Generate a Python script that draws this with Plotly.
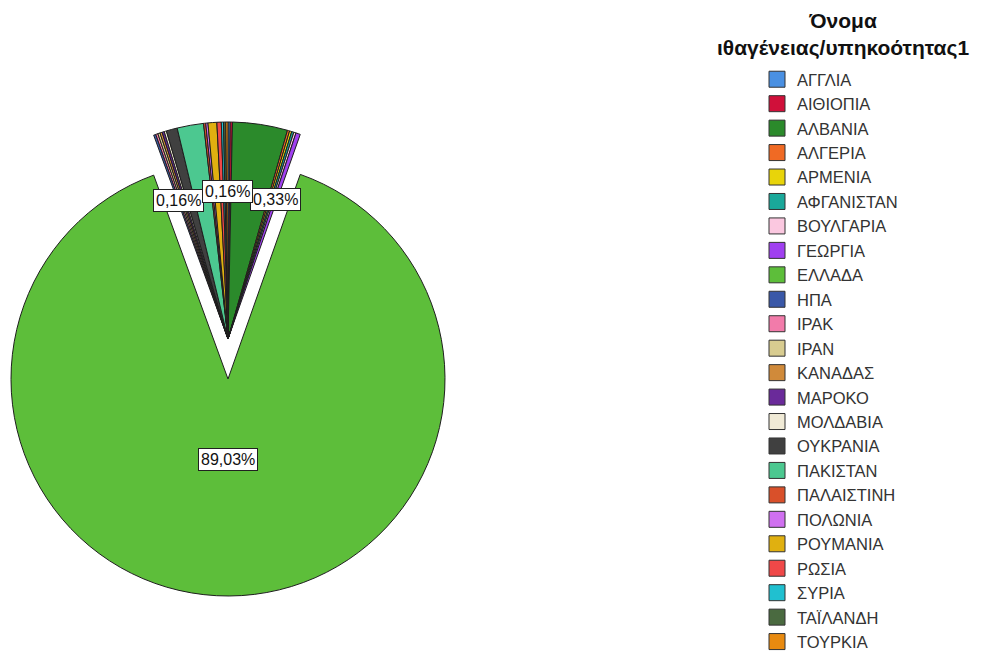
import math
import plotly.graph_objects as go

# ---- data (N = 611) ----
countries = ["ΑΓΓΛΙΑ", "ΑΙΘΙΟΠΙΑ", "ΑΛΒΑΝΙΑ", "ΑΛΓΕΡΙΑ", "ΑΡΜΕΝΙΑ", "ΑΦΓΑΝΙΣΤΑΝ",
             "ΒΟΥΛΓΑΡΙΑ", "ΓΕΩΡΓΙΑ", "ΕΛΛΑΔΑ", "ΗΠΑ", "ΙΡΑΚ", "ΙΡΑΝ", "ΚΑΝΑΔΑΣ",
             "ΜΑΡΟΚΟ", "ΜΟΛΔΑΒΙΑ", "ΟΥΚΡΑΝΙΑ", "ΠΑΚΙΣΤΑΝ", "ΠΑΛΑΙΣΤΙΝΗ", "ΠΟΛΩΝΙΑ",
             "ΡΟΥΜΑΝΙΑ", "ΡΩΣΙΑ", "ΣΥΡΙΑ", "ΤΑΪΛΑΝΔΗ", "ΤΟΥΡΚΙΑ"]
counts = [1, 1, 25, 1, 1, 1,
          1, 2, 544, 1, 1, 1, 1,
          1, 1, 5, 12, 1, 1,
          4, 2, 1, 1, 1]
colors = ["#4A90E2", "#D0103A", "#2B8A2B", "#F06A24", "#E8D40A", "#1AA89A",
          "#FBC8E0", "#A040F0", "#5DBE3A", "#3A58A8", "#F27BAA", "#D8CC90", "#D08A3A",
          "#6A2A9A", "#F0EAD6", "#404040", "#4CC890", "#D9502A", "#D070F0",
          "#E0B010", "#F04848", "#20C0D0", "#4A6A40", "#E88A10"]
labeled = ["ΗΠΑ", "ΤΟΥΡΚΙΑ", "ΓΕΩΡΓΙΑ", "ΕΛΛΑΔΑ"]
main_label = "ΕΛΛΑΔΑ"
legend_title = "Όνομα<br>ιθαγένειας/υπηκοότητας1"

# ---- layout geometry ----
W, H = 995, 659
R = 217
CX = 228
CY_MAIN = 379   # exploded main slice
CY_REST = 339   # remaining slices
FONT = "Arial, Liberation Sans, sans-serif"
EDGE = "#1e1e1e"
CLEAR = "rgba(0,0,0,0)"


def dom(cx, cy, r):
    return dict(x=[(cx - r) / W, (cx + r) / W], y=[1 - (cy + r) / H, 1 - (cy - r) / H])


is_main = [c == main_label for c in countries]
common = dict(labels=countries, values=counts, sort=False, direction="clockwise",
              rotation=0, textinfo="none", hoverinfo="label+percent+value",
              showlegend=False)

fig = go.Figure()
# main slice, pulled down
fig.add_trace(go.Pie(**common,
                     marker=dict(colors=[c if m else CLEAR for c, m in zip(colors, is_main)],
                                 line=dict(color=[EDGE if m else CLEAR for m in is_main],
                                           width=[1 if m else 0 for m in is_main])),
                     domain=dom(CX, CY_MAIN, R)))
# the other slices
fig.add_trace(go.Pie(**common,
                     marker=dict(colors=[CLEAR if m else c for c, m in zip(colors, is_main)],
                                 line=dict(color=[CLEAR if m else EDGE for m in is_main],
                                           width=[0 if m else 1 for m in is_main])),
                     domain=dom(CX, CY_REST, R)))

# legend entries (square swatches)
for name, col in zip(countries, colors):
    fig.add_trace(go.Scatter(x=[None], y=[None], mode="markers", name=name,
                             marker=dict(symbol="square", size=16, color=col,
                                         line=dict(color="#333333", width=1)),
                             hoverinfo="skip", showlegend=True))

# percentage labels in boxes
total = sum(counts)
annotations = []
cum = 0
for name, v in zip(countries, counts):
    a0 = cum / total * 360
    cum += v
    a1 = cum / total * 360
    if name in labeled:
        mid = math.radians((a0 + a1) / 2)
        if name == main_label:
            cy, rr = CY_MAIN, 0.37 * R
        else:
            cy, rr = CY_REST, 0.68 * R
        px = CX + rr * math.sin(mid)
        py = cy - rr * math.cos(mid)
        txt = f"{v / total * 100:.2f}".replace(".", ",") + "%"
        annotations.append(dict(x=px / W, y=1 - py / H, xref="paper", yref="paper",
                                xanchor="center", yanchor="middle",
                                text=txt, showarrow=False, bgcolor="white",
                                bordercolor="#202020", borderwidth=1, borderpad=2,
                                font=dict(family=FONT, size=16, color="#111111")))

annotations.append(dict(x=843 / W, y=1 - 7 / H, xref="paper", yref="paper",
                        xanchor="center", yanchor="top", text="<b>" + legend_title + "</b>",
                        showarrow=False, align="center",
                        font=dict(family=FONT, size=21, color="#111111")))

fig.update_layout(
    width=W, height=H,
    margin=dict(l=0, r=0, t=0, b=0),
    paper_bgcolor="white", plot_bgcolor="white",
    font=dict(family=FONT),
    annotations=annotations,
    xaxis=dict(visible=False), yaxis=dict(visible=False),
    legend=dict(x=757 / W, xanchor="left", y=0, yanchor="bottom",
                font=dict(family=FONT, size=16.5, color="#333333"),
                bgcolor="rgba(0,0,0,0)", traceorder="normal", itemsizing="trace"),
)

fig.write_html("out.html", config={"displayModeBar": False},
               post_script="document.body.style.margin='0';")
